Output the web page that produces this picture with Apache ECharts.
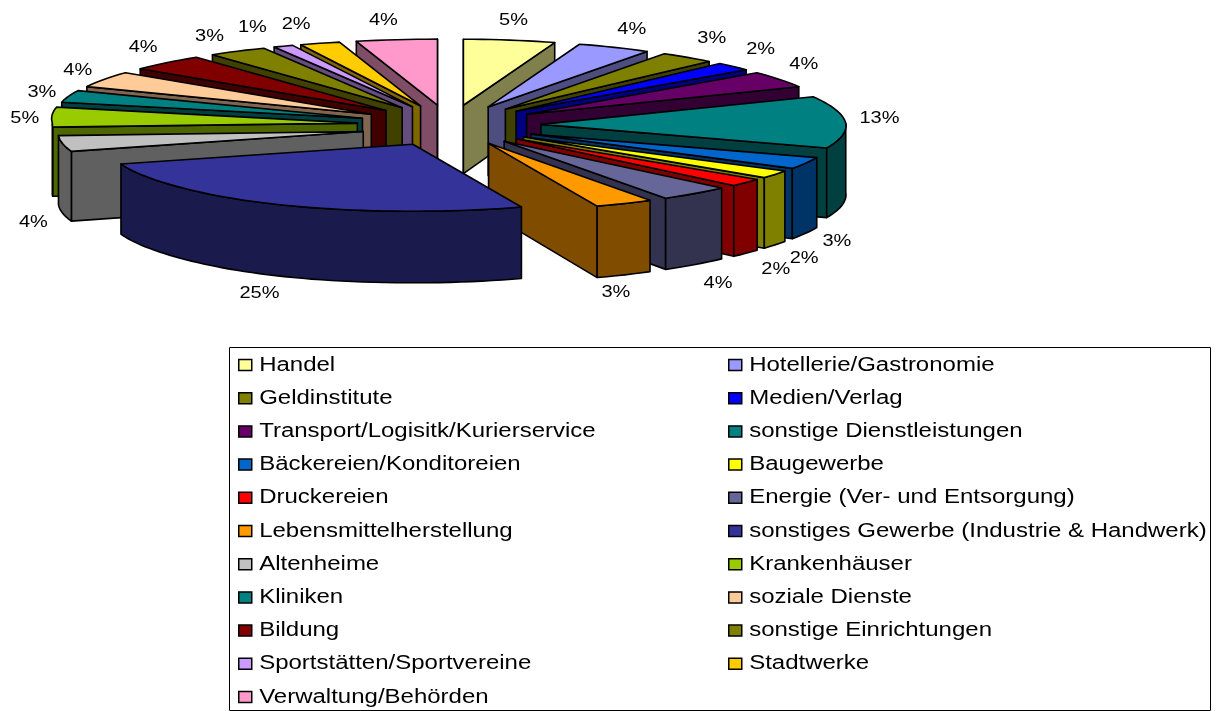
<!DOCTYPE html>
<html><head><meta charset="utf-8">
<style>html,body{margin:0;padding:0;background:#fff}#c{width:1216px;height:711px}</style>
<script src="https://cdn.jsdelivr.net/npm/echarts@6/dist/echarts.min.js"></script>
</head><body><div id="c"></div>
<script>
const categories = ["Handel","Hotellerie/Gastronomie","Geldinstitute","Medien/Verlag","Transport/Logisitk/Kurierservice","sonstige Dienstleistungen","Bäckereien/Konditoreien","Baugewerbe","Druckereien","Energie (Ver- und Entsorgung)","Lebensmittelherstellung","sonstiges Gewerbe (Industrie & Handwerk)","Altenheime","Krankenhäuser","Kliniken","soziale Dienste","Bildung","sonstige Einrichtungen","Sportstätten/Sportvereine","Stadtwerke","Verwaltung/Behörden"];
const values = [5,4,3,2,4,13,3,2,2,4,3,25,4,5,3,4,4,3,1,2,4];
const colors = ["#FFFF99","#9999FF","#808000","#0000FF","#660066","#008080","#0066CC","#FFFF00","#FF0000","#666699","#FF9900","#333399","#C0C0C0","#99CC00","#008080","#FFCC99","#800000","#808000","#CC99FF","#FFCC00","#FF99CC"];
const sideColors = ["#80804D","#4D4D80","#404000","#000080","#330033","#004040","#003366","#808000","#800000","#333350","#804D00","#1A1A4D","#606060","#4D6600","#004040","#806650","#400000","#404000","#664D80","#806600","#804D66"];
// label offsets from the radial placement (layout only)
const labelNudge = [[0,0],[7,1],[9,-3],[9,-3],[3,-4],[9,-3],[9,5],[9,1],[12,2],[9,3],[-16,0],[17,4],[0,51],[-2,4],[-3,3],[-5,2],[-6,0],[-15,3],[-21,0],[-16,0],[-10,1]];

const cx = 449, cy = 125, E = 92, Ey = 20;
const total = values.reduce((a,b)=>a+b,0);
function front(t){ return -Math.cos(t); }
function Rx(t){
  const c = front(t);
  if(c > 0) return 305 + 6*c + 55*Math.pow(c,6);
  return Math.sin(t) < 0 ? 305 - 22*c : 305 + 10*c;
}
function Ry(t){
  const c = front(t);
  return c > 0 ? 64 + 3*Math.pow(c,8) : 64 - 2*c;
}
function depth(y){ return 69 + 0.03*(y-125); }
function angle(p){ return p/total*2*Math.PI; }
const starts = []; values.reduce((a,v,i)=>{starts[i]=a; return a+v;},0);

function pt(ax,ay,t){ return [ax + Rx(t)*Math.sin(t), ay - Ry(t)*Math.cos(t)]; }
function down(p){ return [p[0], p[1]+depth(p[1])]; }
function renderSlice(i){
  return function(params, api){
    const v = api.value(0);
    const a0 = angle(starts[i]), a1 = angle(starts[i]+v), mid = (a0+a1)/2;
    const mc = Math.max(0,front(mid)), leftFront = Math.sin(mid)<0 && Math.cos(mid)<0;
    const ax = cx + E*Math.sin(mid) + 6*Math.pow(mc,8) + (leftFront?5-2*mc:0);
    const ay = cy - Ey*Math.cos(mid) + (leftFront?3.2-2*mc:0);
    const apex = [ax,ay];
    const arc = [];
    const n = Math.max(4, Math.round((a1-a0)/0.03));
    for(let k=0;k<=n;k++) arc.push(pt(ax,ay,a0+(a1-a0)*k/n));
    const ln = {stroke:'#000', lineWidth:1.6, lineJoin:'round'};
    const kids = [];
    const wall = (p,fill)=>kids.push({type:'polygon',shape:{points:[apex,p,down(p),down(apex)]},style:Object.assign({fill},ln)});
    if(Math.sin(a0) <= 0.001) wall(arc[0], sideColors[i]);
    if(Math.sin(a1) >= -0.001) wall(arc[n], sideColors[i]);
    const frontArc = [];
    for(let k=0;k<=n;k++){ if(Math.cos(a0+(a1-a0)*k/n) < 0.02) frontArc.push(arc[k]); }
    if(frontArc.length>1){
      kids.push({type:'polygon',shape:{points:frontArc.concat(frontArc.slice().reverse().map(down))},style:Object.assign({fill:sideColors[i]},ln)});
    }
    kids.push({type:'polygon',shape:{points:[apex].concat(arc)},style:Object.assign({fill:colors[i]},ln)});
    const m = Math.cos(mid);
    const lx = cx + (E+Rx(mid)+25)*Math.sin(mid) + labelNudge[i][0];
    const ly = cy - 106*m + (m<0 ? 70*Math.min(1,-2*m) : 0) + labelNudge[i][1];
    kids.push({type:'text',x:lx,y:ly,scaleX:1.25,style:{text:v+'%',x:0,y:0,align:'center',verticalAlign:'middle',font:'16px "Liberation Sans"',fill:'#000'}});
    return {type:'group',children:kids};
  };
}
function frontKey(i){
  const a0=angle(starts[i]),a1=angle(starts[i]+values[i]);
  let k=Math.max(front(a0),front(a1));
  if(a0<Math.PI && a1>Math.PI) k=1;
  return k;
}
const legendCommon = {orient:'vertical',top:355,itemWidth:13,itemHeight:11,itemGap:13.2,padding:0,icon:'rect',selectedMode:false,
  itemStyle:{borderColor:'#000',borderWidth:1.5},
  textStyle:{fontFamily:'Liberation Sans',fontSize:20,color:'#000',padding:[0,0,0,2],lineHeight:19}};
const leftNames = categories.filter((_,i)=>i%2===0), rightNames = categories.filter((_,i)=>i%2===1);
const chart = echarts.init(document.getElementById('c'),null,{renderer:'canvas'});
chart.setOption({
  animation:false,
  legend:[Object.assign({},legendCommon,{left:238,data:leftNames}),Object.assign({},legendCommon,{left:728,data:rightNames})],
  graphic:[{type:'rect',silent:true,z:-1,shape:{x:229.5,y:347.5,width:981,height:363},style:{fill:'#fff',stroke:'#000',lineWidth:1}}],
  series:categories.map((name,i)=>({
    type:'custom',name,coordinateSystem:'none',silent:true,z:2+frontKey(i),
    itemStyle:{color:colors[i]},
    data:[[values[i]]],
    renderItem:renderSlice(i)
  }))
});
// widen the legend glyphs: the reference's text is horizontally stretched
const zr = chart.getZr();
zr.storage.getRoots().forEach(root=>{
  if(root.traverse) root.traverse(el=>{
    if(el.type==='text' && el.style && categories.includes(el.style.text)){
      el.originX = el.style.x || 0; el.originY = el.style.y || 0; el.scaleX = 1.2; el.markRedraw();
    }
  });
});
zr.refresh();
</script></body></html>
